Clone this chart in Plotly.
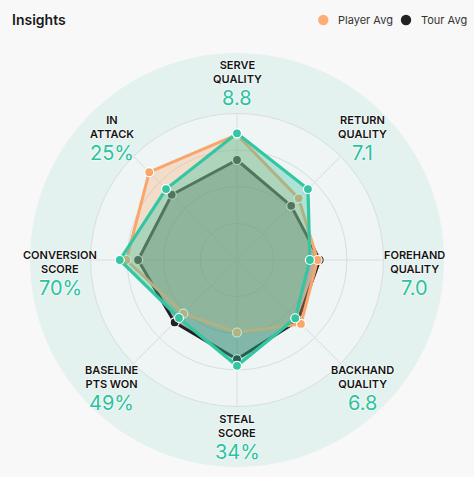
import math
import plotly.graph_objects as go

categories = ["SERVE QUALITY", "RETURN QUALITY", "FOREHAND QUALITY", "BACKHAND QUALITY",
              "STEAL SCORE", "BASELINE PTS WON", "CONVERSION SCORE", "IN ATTACK"]
label_lines = ["SERVE<br>QUALITY", "RETURN<br>QUALITY", "FOREHAND<br>QUALITY", "BACKHAND<br>QUALITY",
               "STEAL<br>SCORE", "BASELINE<br>PTS WON", "CONVERSION<br>SCORE", "IN<br>ATTACK"]
value_labels = ["8.8", "7.1", "7.0", "6.8", "34%", "49%", "70%", "25%"]

player = [3.46, 2.74, 1.99, 2.25, 2.89, 2.24, 3.20, 2.74]
player_avg = [3.42, 2.38, 2.20, 2.47, 1.98, 2.07, 3.02, 3.39]
tour_avg = [2.73, 2.09, 2.26, 2.35, 2.71, 2.41, 2.70, 2.52]

legend_names = ["Player Avg", "Tour Avg"]
legend_colors = ["#fdae74", "#222222"]

W, H = 474, 477
CX, CY, R = 237, 260, 146.5   # polar centre / radius in px
RING = 207
TEAL = "#34c6a2"
ORANGE = "#f9a66c"
DARK = "#222222"
GRID = "#d8dede"


def closed(v):
    return v + v[:1]


fig = go.Figure()

fig.add_trace(go.Scatterpolar(
    r=closed(tour_avg), theta=closed(categories), mode="lines+markers",
    fill="toself", fillcolor="rgba(34,34,34,0.33)",
    line=dict(color=DARK, width=3),
    marker=dict(size=9, color=DARK, line=dict(color="white", width=1.2)),
    name="Tour Avg", showlegend=False, hoverinfo="skip"))
fig.add_trace(go.Scatterpolar(
    r=closed(player_avg), theta=closed(categories), mode="lines+markers",
    fill="toself", fillcolor="rgba(249,166,108,0.3)",
    line=dict(color=ORANGE, width=3),
    marker=dict(size=9, color=ORANGE, line=dict(color="white", width=1.2)),
    name="Player Avg", showlegend=False, hoverinfo="skip"))
fig.add_trace(go.Scatterpolar(
    r=closed(player), theta=closed(categories), mode="lines+markers",
    fill="toself", fillcolor="rgba(52,198,162,0.36)",
    line=dict(color=TEAL, width=3.2),
    marker=dict(size=9, color=TEAL, line=dict(color="white", width=1.2)),
    name="Player", showlegend=False, hoverinfo="skip"))

annotations = []
for i, (lab, val) in enumerate(zip(label_lines, value_labels)):
    a = math.radians(90 - 45 * i)
    px = CX + 177 * math.cos(a)
    py = CY - 177 * math.sin(a) - 11 + 13 * math.cos(a) ** 4
    annotations.append(dict(
        x=px / W, y=1 - py / H, xref="paper", yref="paper", text=lab, showarrow=False,
        xanchor="center", yanchor="middle", align="center",
        font=dict(family="Inter", size=11, color="#141414", weight=600,
                  shadow="0 0 2px #fff, 0 0 2px #fff")))
    annotations.append(dict(
        x=px / W, y=1 - (py + 25.6) / H, xref="paper", yref="paper", text=val, showarrow=False,
        xanchor="center", yanchor="middle",
        font=dict(family="Inter", size=20, color="#2bc29e",
                  shadow="0 0 2px #fff, 0 0 2px #fff")))

# hand-made legend: dot + label
shapes = [dict(type="circle", xref="paper", yref="paper", layer="below",
               x0=(CX - RING) / W, x1=(CX + RING) / W,
               y0=1 - (CY + RING) / H, y1=1 - (CY - RING) / H,
               fillcolor="#e4f2ef", line=dict(width=0))]
for name, col, dot_x in zip(legend_names, legend_colors, [323.3, 406]):
    shapes.append(dict(type="circle", xref="paper", yref="paper",
                       x0=(dot_x - 5.2) / W, x1=(dot_x + 5.2) / W,
                       y0=1 - 25.2 / H, y1=1 - 14.8 / H,
                       fillcolor=col, line=dict(width=0)))
    annotations.append(dict(x=(dot_x + 12.5) / W, y=1 - 20 / H, xref="paper", yref="paper",
                            text=name, showarrow=False, xanchor="left", yanchor="middle",
                            font=dict(family="Inter", size=11, color="#333")))

fig.update_layout(
    width=W, height=H, margin=dict(l=0, r=0, t=0, b=0),
    paper_bgcolor="#f8f8f8",
    font=dict(family="Inter", color="#222"),
    showlegend=False,
    title=dict(text="Insights", x=12 / W, xanchor="left", y=1 - 20 / H, yanchor="middle",
               font=dict(family="Inter", size=14, color="#1a1a1a", weight=600)),
    polar=dict(
        domain=dict(x=[(CX - R) / W, (CX + R) / W], y=[1 - (CY + R) / H, 1 - (CY - R) / H]),
        bgcolor="#eff5f4",
        radialaxis=dict(range=[0, 4], tickvals=[1, 2, 3, 4], showticklabels=False,
                        showline=False, gridcolor=GRID, gridwidth=1, ticks=""),
        angularaxis=dict(rotation=90, direction="clockwise", showticklabels=False,
                         gridcolor=GRID, linecolor=GRID, showline=True, ticks=""),
    ),
    shapes=shapes,
    annotations=annotations,
)

fig.write_html("out.html", config={"displayModeBar": False},
               post_script="document.body.style.margin='0';")
